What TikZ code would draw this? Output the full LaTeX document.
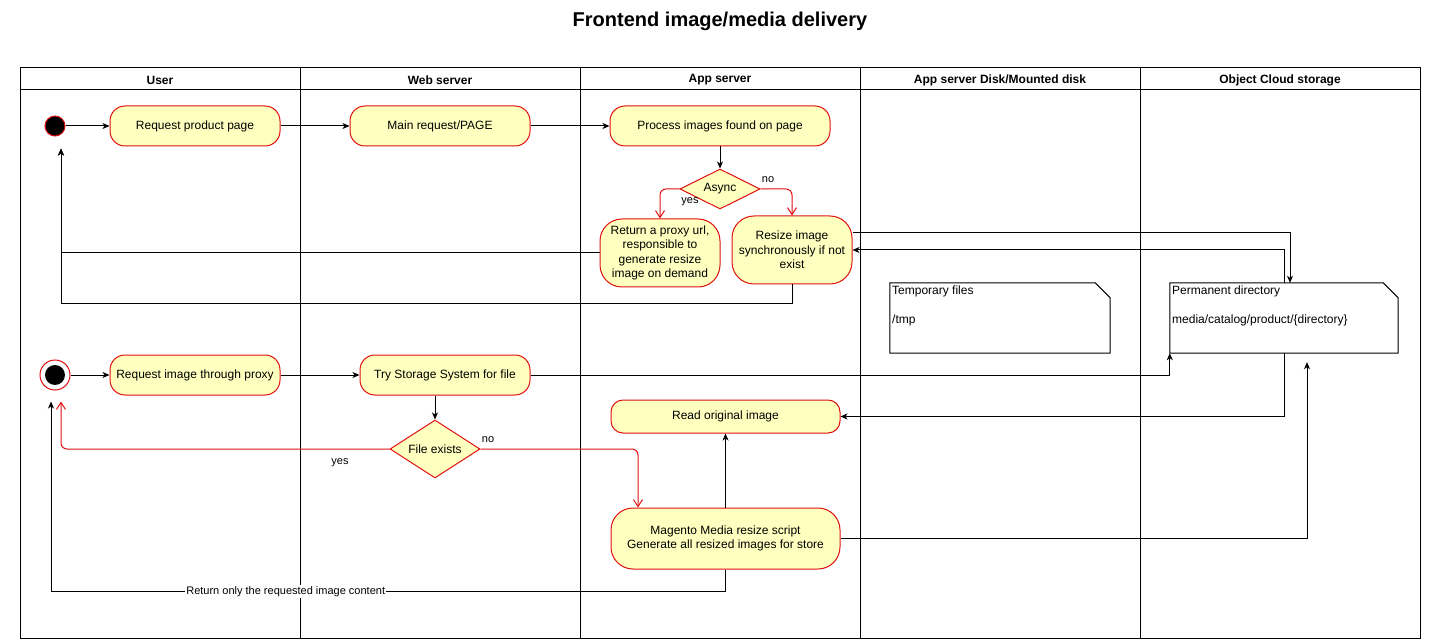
\documentclass[tikz,border=0pt]{standalone}
\usepackage{fontspec}
\setmainfont{Liberation Sans}
\usetikzlibrary{arrows.meta,shapes.geometric,calc}
\definecolor{actfill}{HTML}{FFFFC0}
\definecolor{actline}{HTML}{E01010}
\begin{document}
\begin{tikzpicture}[x=1pt,y=-1pt,
  txt/.style={font=\fontsize{12}{14.5}\selectfont},
  act/.style={txt,draw=actline,fill=actfill,line width=1pt,rounded corners=15pt,align=center,inner sep=0pt},
  dec/.style={txt,diamond,draw=actline,fill=actfill,line width=1pt,inner sep=0pt},
  hdr/.style={font=\fontsize{12}{14.5}\selectfont\bfseries},
  lbl/.style={font=\fontsize{11}{13}\selectfont,inner sep=1pt},
  flow/.style={draw=black,line width=1pt,-{Stealth[length=7pt,width=6pt,inset=2pt]}},
  redflow/.style={draw=actline,line width=1pt,rounded corners=6pt,-{Straight Barb[length=7pt,width=9pt]}},
  notebody/.style={draw=none,minimum width=#1,minimum height=70pt,inner sep=0pt},
  notetext/.style={txt,anchor=north west,align=left,inner sep=0pt}
]
\useasboundingbox (0,0) rectangle (1441,639);
% title
\node[font=\fontsize{20}{24}\selectfont\bfseries] (title) at (720,21) {Frontend image/media delivery};
% pool
\draw[line width=1pt] (20,68) rectangle (1420,638);
\draw[line width=1pt] (20,90) -- (1420,90);
\foreach \xx in {300,580,860,1140}{\draw[line width=1pt] (\xx,68) -- (\xx,638);}
\node[hdr] (h1) at (160,80) {User};
\node[hdr] (h2) at (440,80) {Web server};
\node[hdr] (h3) at (720,80) {App server};
\node[hdr] (h4) at (1000,80) {App server Disk/Mounted disk};
\node[hdr] (h5) at (1280,80) {Object Cloud storage};

% row 1 nodes
\node[circle,fill=black,draw=actline,line width=1pt,minimum size=20pt,inner sep=0pt] (s1) at (55,126) {};
\node[act,minimum width=170pt,minimum height=40pt] (rpp) at (195,126) {Request product page};
\node[act,minimum width=180pt,minimum height=40pt] (main) at (440,126) {Main request/PAGE};
\node[act,minimum width=220pt,minimum height=40pt] (proc) at (720,126) {Process images found on page};
\node[dec,minimum width=80pt,minimum height=40pt,shape aspect=2] (async) at (720,189) {Async};
\node[act,rounded corners=22pt,minimum width=120pt,minimum height=68pt] (ret) at (660,253) {Return a proxy url,\\responsible to\\generate resize\\image on demand};
\node[act,rounded corners=22pt,minimum width=120pt,minimum height=68pt] (rsz) at (792,250) {Resize image\\synchronously if not\\exist};

% notes
\node[notebody=220pt] (tmp) at (1000,318) {};
\draw[line width=1pt,fill=white] (tmp.south west) -- (tmp.north west) -- ([xshift=-15pt]tmp.north east) -- ([yshift=-15pt]tmp.north east) -- (tmp.south east) -- cycle;
\node[notetext] (tmpt) at (892,286) {Temporary files\\[14.5pt]/tmp};
\node[notebody=228pt] (perm) at (1284,318) {};
\draw[line width=1pt,fill=white] (perm.south west) -- (perm.north west) -- ([xshift=-15pt]perm.north east) -- ([yshift=-15pt]perm.north east) -- (perm.south east) -- cycle;
\node[notetext] (permt) at (1172,286) {Permanent directory\\[14.5pt]media/catalog/product/\{directory\}};

% row 2 nodes
\node[circle,draw=actline,line width=1pt,fill=white,minimum size=30pt,inner sep=0pt] (s2) at (55,375) {};
\node[circle,fill=black,minimum size=20pt,inner sep=0pt] (s2in) at (55,375) {};
\node[act,minimum width=170pt,minimum height=40pt] (rip) at (195,375) {Request image through proxy};
\node[act,minimum width=170pt,minimum height=40pt] (try) at (445,375) {Try Storage System for file};
\node[dec,minimum width=90pt,minimum height=58pt,shape aspect=1.55] (fe) at (435,449) {File exists};
\node[act,rounded corners=12pt,minimum width=229pt,minimum height=33pt] (read) at (725.5,416.5) {Read original image};
\node[act,rounded corners=22pt,minimum width=229pt,minimum height=61pt] (mag) at (725.5,538.5) {Magento Media resize script\\Generate all resized images for store};

% row 1 edges
\draw[flow] (s1) -- (rpp);
\draw[flow] (rpp) -- (main);
\draw[flow] (main) -- (proc);
\draw[flow] (proc) -- (async);
\draw[redflow] (async.west) -| (ret.north);
\draw[redflow] (async.east) -| (rsz.north);
\node[lbl] (lyes1) at (690,202) {yes};
\node[lbl] (lno1) at (768,180) {no};
\draw[flow,shorten >=12pt] (ret.west) -| ([xshift=6pt]s1.south);
\draw[flow,shorten >=12pt] (rsz.south) -- ++(0,19) -| ([xshift=6pt]s1.south);
\draw[flow] ([yshift=17pt]rsz.east) -| ([xshift=6pt]perm.north);
\draw[flow] (perm.north) |- (rsz.east);

% row 2 edges
\draw[flow] (s2) -- (rip);
\draw[flow] (rip) -- (try);
\draw[flow] (try.east) -| (perm.south west);
\draw[flow] (try.south -| fe.north) -- (fe.north);
\draw[redflow,shorten >=11pt] (fe.west) -| ([xshift=6pt]s2.south);
\draw[redflow] (fe.east) -| ([xshift=-87.5pt]mag.north);
\node[lbl] (lno2) at (488,440) {no};
\node[lbl] (lyes2) at (340,463) {yes};
\draw[flow] (mag) -- (read);
\draw[flow] (perm.south) |- (read.east);
\draw[flow,shorten >=9pt] (mag.east) -| ([xshift=23pt]perm.south);
\draw[flow,shorten >=11pt] (mag.south) -- ++(0,22) -| node[lbl,fill=white,pos=0.326] (lret) {Return only the requested image content} ([xshift=-4pt]s2.south);
\end{tikzpicture}
\end{document}
